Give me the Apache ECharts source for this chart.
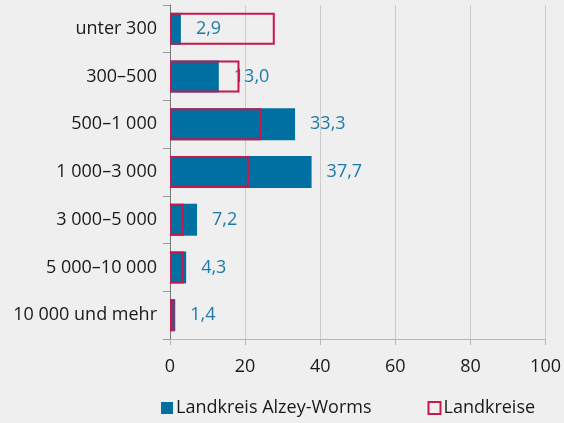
<!DOCTYPE html>
<html>
<head>
<meta charset="utf-8">
<script src="https://cdn.jsdelivr.net/npm/echarts@6/dist/echarts.min.js"></script>
<style>
html,body{margin:0;padding:0;background:#eeefee;}
#main{width:564px;height:423px;}
</style>
</head>
<body>
<div id="main"></div>
<script>
// Gemeindegrößenklassen (Einwohner)
var categories = ['unter 300', '300–500', '500–1 000', '1 000–3 000', '3 000–5 000', '5 000–10 000', '10 000 und mehr'];
var alzeyWorms = [2.9, 13.0, 33.3, 37.7, 7.2, 4.3, 1.4];
var landkreise = [27.9, 18.5, 24.4, 21.0, 3.7, 3.6, 1.2];
var xTicks = [0, 20, 40, 60, 80, 100];

var myChart = echarts.init(document.getElementById('main'));

var fontFam = '"Open Sans", "Noto Sans", sans-serif';

var option = {
    backgroundColor: '#eeefee',
    animation: false,
    grid: {
        left: 170,
        right: 18,
        top: 5,
        bottom: 84
    },
    legend: {
        bottom: 1,
        left: 156,
        icon: 'rect',
        itemWidth: 12,
        itemHeight: 12,
        itemGap: 56,
        textStyle: { fontFamily: fontFam, fontSize: 18, color: '#1a1a1a', padding: [0, 0, 0, -2] },
        data: ['Landkreis Alzey-Worms', 'Landkreise']
    },
    xAxis: {
        type: 'value',
        min: xTicks[0],
        max: xTicks[xTicks.length - 1],
        interval: 20,
        axisLine: { show: true, lineStyle: { color: '#b8b8b8', width: 1 } },
        axisTick: { show: true, length: 6, lineStyle: { color: '#b8b8b8' } },
        splitLine: { show: true, lineStyle: { color: '#cccccc', width: 1 } },
        axisLabel: { fontFamily: fontFam, fontSize: 18, color: '#1a1a1a', margin: 19 }
    },
    yAxis: {
        type: 'category',
        inverse: true,
        data: categories,
        axisLine: { show: true, lineStyle: { color: '#777777', width: 1 } },
        axisTick: { show: true, length: 7, lineStyle: { color: '#999999' } },
        axisLabel: { fontFamily: fontFam, fontSize: 18, color: '#1a1a1a', margin: 13 }
    },
    series: [
        {
            name: 'Landkreis Alzey-Worms',
            type: 'bar',
            data: alzeyWorms,
            barWidth: '67%',
            barGap: '-100%',
            itemStyle: { color: '#0070a3' },
            label: {
                show: true,
                position: 'right',
                distance: 15,
                fontFamily: fontFam,
                fontSize: 18,
                color: '#1c7bab',
                formatter: function (p) {
                    return p.value.toFixed(1).replace('.', ',');
                }
            }
        },
        {
            name: 'Landkreise',
            type: 'bar',
            data: landkreise,
            barWidth: '67%',
            barGap: '-100%',
            z: 3,
            itemStyle: {
                color: 'rgba(0,0,0,0)',
                borderColor: '#c8174a',
                borderWidth: 2
            }
        }
    ]
};

myChart.setOption(option);
</script>
</body>
</html>
